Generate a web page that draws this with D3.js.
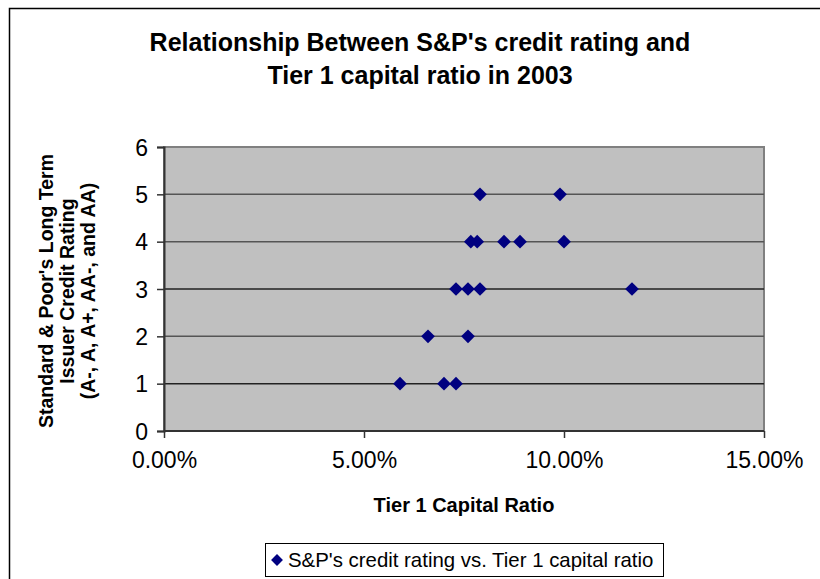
<!DOCTYPE html>
<html>
<head>
<meta charset="utf-8">
<script src="https://cdn.jsdelivr.net/npm/d3@7"></script>
<style>
  body { margin: 0; background: #fff; }
  svg { display: block; font-family: "Liberation Sans", Arial, sans-serif; }
</style>
</head>
<body>
<div id="chart"></div>
<script>
// Tier 1 capital ratio (%) and S&P rating code (1 = A-, ... 5 = AA)
const capitalRatio = [5.9, 7.0, 7.3, 6.6, 7.6, 7.3, 7.6, 7.9, 11.7, 7.67, 7.83, 8.5, 8.9, 10.0, 7.9, 9.9];
const creditRating = [1, 1, 1, 2, 2, 3, 3, 3, 3, 4, 4, 4, 4, 4, 5, 5];
const xTicks = [0, 5, 10, 15];
const yTicks = [0, 1, 2, 3, 4, 5, 6];
const titleLines = ["Relationship Between S&P's credit rating and", "Tier 1 capital ratio in 2003"];
const yTitleLines = ["Standard & Poor's Long Term", "Issuer Credit Rating", "(A-, A, A+, AA-, and AA)"];
const seriesName = "S&P's credit rating vs. Tier 1 capital ratio";

const points = capitalRatio.map((v, i) => ({ x: v, y: creditRating[i] }));

const width = 820, height = 579;
const plot = { left: 164, right: 764, top: 147, bottom: 431 };

const svg = d3.select("#chart").append("svg")
    .attr("width", width)
    .attr("height", height);

// chart frame
svg.append("rect")
    .attr("x", 9.5).attr("y", 8.5)
    .attr("width", 830).attr("height", 600)
    .attr("fill", "none")
    .attr("stroke", "#000")
    .attr("stroke-width", 1.5);

const x = d3.scaleLinear().domain([0, 15]).range([plot.left, plot.right]);
const y = d3.scaleLinear().domain([0, 6]).range([plot.bottom, plot.top]);

// plot background
svg.append("rect")
    .attr("x", plot.left).attr("y", plot.top)
    .attr("width", plot.right - plot.left)
    .attr("height", plot.bottom - plot.top)
    .attr("fill", "#c0c0c0")
    .attr("stroke", "#808080")
    .attr("stroke-width", 2);

// gridlines
svg.append("g")
    .selectAll("line")
    .data(yTicks.filter(d => d > 0 && d < 6))
    .enter()
    .append("line")
    .attr("x1", plot.left).attr("x2", plot.right)
    .attr("y1", d => y(d)).attr("y2", d => y(d))
    .attr("stroke", d => d === 1 || d === 3 ? "#222" : "#555")
    .attr("stroke-width", 1.5);

// axes
const yAxis = svg.append("g")
    .attr("transform", `translate(${plot.left},0)`)
    .call(d3.axisLeft(y).tickValues(yTicks).tickSize(7).tickPadding(9).tickFormat(d3.format("d")));
const xAxis = svg.append("g")
    .attr("transform", `translate(0,${plot.bottom})`)
    .call(d3.axisBottom(x).tickValues(xTicks).tickSize(7).tickPadding(14).tickFormat(d => d.toFixed(2) + "%"));

[xAxis, yAxis].forEach(g => {
    g.select(".domain").attr("stroke", "#333").attr("stroke-width", 2);
    g.selectAll(".tick line").attr("stroke", "#333").attr("stroke-width", 1.5);
    g.selectAll("text")
        .attr("font-family", "Liberation Sans, Arial, sans-serif")
        .attr("font-size", 23)
        .attr("fill", "#000");
});
yAxis.selectAll("text").attr("dy", "0.35em");
xAxis.select(".domain").attr("d", `M${plot.left},0H${plot.right}`);

// points
const diamond = d3.symbol().type(d3.symbolDiamond2).size(120);
svg.append("g")
    .selectAll("path")
    .data(points)
    .enter()
    .append("path")
    .attr("d", diamond)
    .attr("transform", d => `translate(${x(d.x)},${y(d.y)})`)
    .attr("fill", "#000080");

// title
svg.append("text")
    .attr("x", 420).attr("y", 51)
    .attr("text-anchor", "middle")
    .attr("font-size", 25)
    .attr("font-weight", "bold")
    .selectAll("tspan")
    .data(titleLines)
    .enter()
    .append("tspan")
    .attr("x", 420)
    .attr("dy", (d, i) => i === 0 ? 0 : 33)
    .text(d => d);

// x axis title
svg.append("text")
    .attr("x", 464).attr("y", 512)
    .attr("text-anchor", "middle")
    .attr("font-size", 20)
    .attr("font-weight", "bold")
    .text("Tier 1 Capital Ratio");

// y axis title
svg.append("text")
    .attr("transform", "translate(53,291) rotate(-90)")
    .attr("text-anchor", "middle")
    .attr("font-size", 19.5)
    .attr("font-weight", "bold")
    .selectAll("tspan")
    .data(yTitleLines)
    .enter()
    .append("tspan")
    .attr("x", 0)
    .attr("dy", (d, i) => i === 0 ? 0 : 21)
    .text(d => d);

// legend
const legend = svg.append("g");
legend.append("rect")
    .attr("x", 265.5).attr("y", 543.5)
    .attr("width", 398).attr("height", 33)
    .attr("fill", "#fff")
    .attr("stroke", "#000");
legend.append("path")
    .attr("d", d3.symbol().type(d3.symbolDiamond2).size(90))
    .attr("transform", "translate(277,560)")
    .attr("fill", "#000080");
legend.append("text")
    .attr("x", 288).attr("y", 567)
    .attr("font-size", 20.4)
    .text(seriesName);
</script>
</body>
</html>
